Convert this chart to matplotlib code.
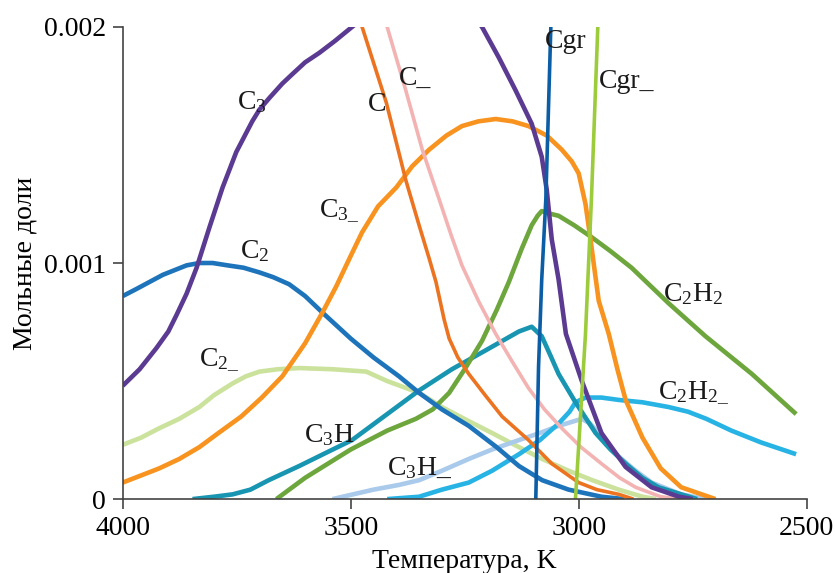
import numpy as np
import matplotlib
matplotlib.use("Agg")
import matplotlib.pyplot as plt

plt.rcParams['font.family'] = 'serif'
plt.rcParams['font.serif'] = ['Liberation Serif', 'DejaVu Serif']
plt.rcParams['mathtext.fontset'] = 'custom'
plt.rcParams['mathtext.rm'] = 'Liberation Serif'
plt.rcParams['mathtext.it'] = 'Liberation Serif:italic'

# кривые мольных долей (T, K ; доля)
c3_t = [4000, 3963, 3926, 3900, 3882, 3860, 3838, 3810, 3781, 3751, 3716, 3700, 3678, 3650, 3628, 3600, 3569, 3535, 3497, 3420, 3330, 3260, 3212, 3175, 3138, 3103, 3081, 3070, 3059, 3044, 3028, 2993, 2950, 2897, 2840, 2780, 2750]
c3_y = [0.00048, 0.00055, 0.00064, 0.00071, 0.00078, 0.00087, 0.00098, 0.00115, 0.00132, 0.00147, 0.00160, 0.00165, 0.00170, 0.00176, 0.00180, 0.00185, 0.00189, 0.00194, 0.00200, 0.00212, 0.00218, 0.00212, 0.00200, 0.00187, 0.00173, 0.00159, 0.00145, 0.00131, 0.00110, 0.00093, 0.00070, 0.00050, 0.00028, 0.000136, 0.00005, 0.00001, 0.0]

c2_t = [4000, 3970, 3941, 3912, 3886, 3860, 3832, 3803, 3770, 3735, 3700, 3670, 3635, 3600, 3562, 3500, 3450, 3394, 3350, 3300, 3241, 3180, 3131, 3080, 3022, 2950, 2900]
c2_y = [0.00086, 0.00089, 0.00092, 0.00095, 0.00097, 0.00099, 0.00100, 0.00100, 0.00099, 0.00098, 0.00096, 0.00094, 0.00091, 0.00086, 0.00079, 0.00068, 0.00060, 0.00052, 0.00045, 0.00038, 0.00031, 0.00022, 0.00014, 0.00008, 0.00004, 0.00001, 0.0]

c2m_t = [4000, 3960, 3920, 3876, 3832, 3800, 3759, 3730, 3700, 3660, 3613, 3540, 3466, 3420, 3350, 3300, 3241, 3190, 3131, 3080, 3022, 2970, 2912, 2860, 2830]
c2m_y = [0.00023, 0.00026, 0.00030, 0.00034, 0.00039, 0.00044, 0.00049, 0.00052, 0.00054, 0.00055, 0.000555, 0.00055, 0.00054, 0.00050, 0.00045, 0.00039, 0.00033, 0.00028, 0.00022, 0.00017, 0.00012, 0.00008, 0.00004, 0.00001, 0.0]

c3m_t = [4000, 3960, 3920, 3876, 3832, 3790, 3740, 3695, 3650, 3600, 3562, 3532, 3500, 3475, 3440, 3400, 3365, 3328, 3290, 3256, 3220, 3182, 3145, 3110, 3070, 3037, 3015, 3000, 2985, 2974, 2963, 2956, 2934, 2915, 2897, 2860, 2820, 2775, 2700]
c3m_y = [0.00007, 0.00010, 0.00013, 0.00017, 0.00022, 0.00028, 0.00035, 0.00043, 0.00052, 0.00066, 0.00079, 0.00090, 0.00103, 0.00113, 0.00124, 0.00132, 0.00141, 0.00148, 0.00154, 0.00158, 0.00160, 0.00161, 0.00160, 0.00158, 0.00154, 0.00148, 0.00143, 0.00138, 0.00125, 0.00110, 0.00094, 0.00084, 0.00070, 0.00055, 0.00042, 0.00026, 0.00013, 0.00005, 0.0]

c_t = [3520, 3475, 3422, 3379, 3350, 3328, 3313, 3295, 3284, 3265, 3241, 3205, 3168, 3110, 3059, 3000, 2960, 2912, 2880]
c_y = [0.00225, 0.00200, 0.00168, 0.00135, 0.00116, 0.00102, 0.00092, 0.00076, 0.00068, 0.00060, 0.00053, 0.00044, 0.00035, 0.00025, 0.00015, 0.00007, 0.00004, 0.00002, 0.0]

cm_t = [3450, 3420, 3379, 3343, 3306, 3280, 3256, 3220, 3182, 3145, 3110, 3075, 3037, 2995, 2950, 2910, 2875, 2820, 2775]
cm_y = [0.00220, 0.00200, 0.00173, 0.00148, 0.00127, 0.00112, 0.00099, 0.00084, 0.00070, 0.00058, 0.00047, 0.00038, 0.00030, 0.00022, 0.00015, 0.00009, 0.00005, 0.00001, 0.0]

cgr_t = [3094, 3088, 3081, 3072, 3061, 3055]
cgr_y = [0.0, 0.00056, 0.00093, 0.00127, 0.00200, 0.00230]

cgrm_t = [3007, 2985, 2972, 2958, 2950]
cgrm_y = [0.0, 0.00070, 0.00127, 0.00200, 0.00230]

c2h2_t = [3663, 3600, 3500, 3420, 3357, 3320, 3284, 3250, 3212, 3180, 3153, 3125, 3103, 3090, 3081, 3065, 3044, 3010, 2972, 2930, 2884, 2803, 2722, 2620, 2523]
c2h2_y = [0.0, 0.00009, 0.00021, 0.00029, 0.00034, 0.00038, 0.00045, 0.00055, 0.00067, 0.00080, 0.00092, 0.00106, 0.00116, 0.00120, 0.00122, 0.00121, 0.00120, 0.00116, 0.00111, 0.00105, 0.00098, 0.00083, 0.00069, 0.00053, 0.00036]

c2h2m_t = [3420, 3350, 3300, 3241, 3190, 3131, 3085, 3044, 3020, 3007, 2985, 2950, 2912, 2860, 2803, 2760, 2720, 2665, 2600, 2523]
c2h2m_y = [0.0, 0.00001, 0.00004, 0.00007, 0.00012, 0.00019, 0.00025, 0.00032, 0.00037, 0.00041, 0.00043, 0.00043, 0.00042, 0.00041, 0.00039, 0.00037, 0.00034, 0.00029, 0.00024, 0.00019]

c3h_t = [3847, 3800, 3759, 3720, 3680, 3613, 3550, 3497, 3420, 3350, 3278, 3204, 3131, 3103, 3081, 3060, 3044, 3007, 2963, 2930, 2897, 2860, 2825, 2775, 2740]
c3h_y = [0.0, 0.00001, 0.00002, 0.00004, 0.00008, 0.00014, 0.00020, 0.00025, 0.00036, 0.00046, 0.00055, 0.00063, 0.00071, 0.00073, 0.00069, 0.00060, 0.00053, 0.00041, 0.00028, 0.00021, 0.00015, 0.00009, 0.00005, 0.00002, 0.0]

c3hm_t = [3540, 3450, 3394, 3350, 3300, 3241, 3190, 3131, 3085, 3044, 2993, 2975, 2956, 2935, 2912, 2875, 2840, 2775, 2720]
c3hm_y = [0.0, 0.00004, 0.00006, 0.00008, 0.00012, 0.00017, 0.00021, 0.00025, 0.00028, 0.00031, 0.00034, 0.00032, 0.00028, 0.00023, 0.00018, 0.00012, 0.00007, 0.00002, 0.0]

curves = [
    (c2m_t, c2m_y, "#CBE29C", 3.3),
    (c3hm_t, c3hm_y, "#A9CAEA", 3.3),
    (c2h2m_t, c2h2m_y, "#27B3E4", 3.3),
    (c3h_t, c3h_y, "#1895B1", 3.3),
    (c2h2_t, c2h2_y, "#6DA63C", 3.3),
    (c2_t, c2_y, "#1D74BB", 3.3),
    (c3m_t, c3m_y, "#F7931E", 3.3),
    (c_t, c_y, "#EC7320", 2.6),
    (cm_t, cm_y, "#F3B3B3", 2.6),
    (c3_t, c3_y, "#5B3A92", 3.3),
    (cgr_t, cgr_y, "#0B5EA6", 2.6),
    (cgrm_t, cgrm_y, "#9CCC3C", 2.6),
]

labels = [
    (3716, 0.00168, r"C$_3$"),
    (3442, 0.00167, "C"),
    (3358, 0.00178, "C_"),
    (3028, 0.00194, "Cgr"),
    (2895, 0.00177, "Cgr_"),
    (3525, 0.00122, r"C$_{3\_}$"),
    (3711, 0.00105, r"C$_2$"),
    (2748, 0.00087, r"C$_2$H$_2$"),
    (3788, 0.00059, r"C$_{2\_}$"),
    (2748, 0.00045, r"C$_2$H$_{2\_}$"),
    (3547, 0.00027, r"C$_3$H"),
    (3350, 0.00013, r"C$_3$H_"),
]

fig = plt.figure(figsize=(8.35, 5.73), dpi=100)
ax = fig.add_axes([0.147, 0.129, 0.819, 0.824])

for t, y, col, lw in curves:
    ax.plot(t, y, color=col, lw=lw, solid_capstyle='butt', solid_joinstyle='round')

for x, y, s in labels:
    ax.text(x, y, s, fontsize=20, ha='center', va='center', color='#1a1a1a')

ax.set_xlim(4000, 2500)
ax.set_ylim(0, 0.002)
ax.set_xticks([4000, 3500, 3000, 2500])
ax.set_xticklabels(["4000", "3500", "3000", "2500"])
ax.set_yticks([0, 0.001, 0.002])
ax.set_yticklabels(["0", "0.001", "0.002"])
ax.tick_params(labelsize=20, direction='out', length=7, width=1.2, color='#444444', pad=5)
for lbl in ax.get_xticklabels() + ax.get_yticklabels():
    lbl.set_fontfamily('Liberation Serif')
for s in ['top', 'right']:
    ax.spines[s].set_visible(False)
for s in ['left', 'bottom']:
    ax.spines[s].set_color('#444444')
    ax.spines[s].set_linewidth(1.2)

ax.set_xlabel("Температура, K", fontsize=20, labelpad=6)
ax.set_ylabel("Мольные доли", fontsize=20, labelpad=5)

fig.savefig("out.png", dpi=100)
